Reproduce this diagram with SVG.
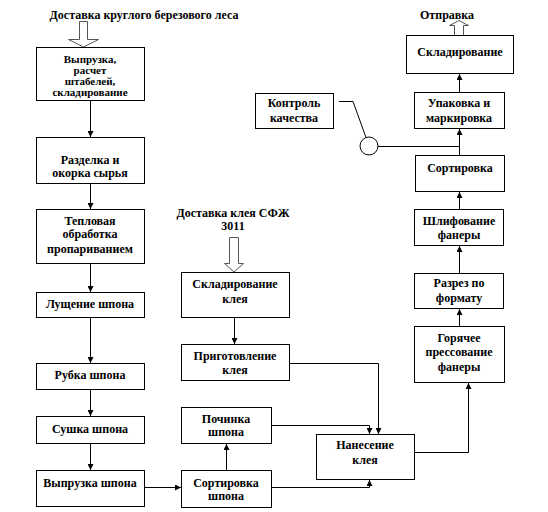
<svg xmlns="http://www.w3.org/2000/svg" width="548" height="512" viewBox="0 0 548 512">
<defs>
<marker id="ah" viewBox="0 0 6 6" refX="6" refY="3" markerWidth="6" markerHeight="6" orient="auto" markerUnits="userSpaceOnUse">
<path d="M0,0 L6,3 L0,6 Z" fill="#000"/>
</marker>
<style>
rect{fill:#fff;stroke:#000;stroke-width:1}
text{font-family:'Liberation Serif','Times New Roman','DejaVu Serif',serif;font-weight:bold;font-size:12px;fill:#000;text-anchor:middle}
.s{font-size:11px}
.c path,.c line,.c polyline{fill:none;stroke:#000;stroke-width:1}
.h{fill:#fff;stroke:#555;stroke-width:1}
</style>
</defs>
<rect x="0" y="0" width="548" height="512" style="fill:#fff;stroke:none"/>
<g font-family="Liberation Serif, serif">
<g id="src1"><text x="144" y="19">Доставка круглого березового леса</text>
<path class="h" d="M79.5,21.5 H87.5 V39.5 H98.5 L83.5,47 L68.5,39.5 H79.5 Z"/></g>
<g id="n1"><rect x="36.5" y="47.5" width="108" height="53"/>
<text class="s" x="90" y="63">Выпрузка,</text><text class="s" x="90" y="74">расчет</text><text class="s" x="90" y="85">штабелей,</text><text class="s" x="90" y="96">складирование</text></g>
<g id="n2"><rect x="36.5" y="137.5" width="108" height="46"/>
<text x="90" y="164">Разделка и</text><text x="90" y="177">окорка сырья</text></g>
<g id="n3"><rect x="36.5" y="209.5" width="108" height="54"/>
<text x="90" y="225">Тепловая</text><text x="90" y="238">обработка</text><text x="90" y="253">пропариванием</text></g>
<g id="n4"><rect x="36.5" y="292.5" width="108" height="25"/><text x="90" y="308">Лущение шпона</text></g>
<g id="n5"><rect x="36.5" y="363.5" width="108" height="26"/><text x="90" y="379">Рубка шпона</text></g>
<g id="n6"><rect x="36.5" y="416.5" width="108" height="27"/><text x="90" y="433">Сушка шпона</text></g>
<g id="n7"><rect x="36.5" y="470.5" width="108" height="36"/><text x="90" y="487">Выпрузка шпона</text></g>

<g id="src2"><text x="233" y="217">Доставка клея СФЖ</text><text x="233" y="230">3011</text>
<path class="h" d="M229.5,237.5 H238.5 V263.5 H243.5 L234,272 L224.5,263.5 H229.5 Z"/></g>
<g id="n8"><rect x="181.5" y="272.5" width="108" height="45"/><text x="235" y="288">Складирование</text><text x="235" y="303">клея</text></g>
<g id="n9"><rect x="181.5" y="344.5" width="108" height="36"/><text x="235" y="360">Приготовление</text><text x="235" y="374">клея</text></g>
<g id="n10"><rect x="181.5" y="407.5" width="90" height="36"/><text x="226" y="423">Починка</text><text x="226" y="436">шпона</text></g>
<g id="n11"><rect x="181.5" y="470.5" width="90" height="37"/><text x="226" y="487">Сортировка</text><text x="226" y="500">шпона</text></g>
<g id="n12"><rect x="316.5" y="434.5" width="98" height="45"/><text x="365" y="449">Нанесение</text><text x="365" y="464">клея</text></g>

<g id="n13"><rect x="414.5" y="326.5" width="90" height="56"/><text x="459" y="342">Горячее</text><text x="459" y="356">прессование</text><text x="459" y="371">фанеры</text></g>
<g id="n14"><rect x="414.5" y="273.5" width="89" height="35"/><text x="459" y="287">Разрез по</text><text x="459" y="302">формату</text></g>
<g id="n15"><rect x="414.5" y="209.5" width="89" height="36"/><text x="459" y="225">Шлифование</text><text x="459" y="239">фанеры</text></g>
<g id="n16"><rect x="415.5" y="155.5" width="89" height="36"/><text x="460" y="172">Сортировка</text></g>
<g id="n17"><rect x="414.5" y="92.5" width="90" height="36"/><text x="459" y="107">Упаковка и</text><text x="459" y="122">маркировка</text></g>
<g id="n18"><rect x="406.5" y="35.5" width="107" height="38"/><text x="460" y="56">Складирование</text></g>
<g id="dst"><text x="447" y="19">Отправка</text>
<path class="h" d="M454.5,35 V25.5 H449.5 L459,20.5 L468.5,25.5 H463.5 V35"/></g>
<g id="n19"><rect x="255.5" y="93.5" width="78" height="35"/><text x="294" y="107">Контроль</text><text x="294" y="122">качества</text></g>
</g>
<g class="c" id="connectors">
<line x1="90.5" y1="101" x2="90.5" y2="137" marker-end="url(#ah)"/>
<line x1="90.5" y1="184" x2="90.5" y2="209" marker-end="url(#ah)"/>
<line x1="90.5" y1="264" x2="90.5" y2="292" marker-end="url(#ah)"/>
<line x1="90.5" y1="318" x2="90.5" y2="363" marker-end="url(#ah)"/>
<line x1="90.5" y1="390" x2="90.5" y2="416" marker-end="url(#ah)"/>
<line x1="90.5" y1="444" x2="90.5" y2="470" marker-end="url(#ah)"/>
<line x1="145" y1="487.5" x2="181" y2="487.5" marker-end="url(#ah)"/>
<line x1="226.5" y1="470" x2="226.5" y2="444" marker-end="url(#ah)"/>
<line x1="234.5" y1="318" x2="234.5" y2="344" marker-end="url(#ah)"/>
<polyline points="272,425.5 369.5,425.5 369.5,434" marker-end="url(#ah)"/>
<polyline points="290,363.5 378.5,363.5 378.5,434" marker-end="url(#ah)"/>
<polyline points="272,487.5 369.5,487.5 369.5,480" marker-end="url(#ah)"/>
<polyline points="415,452.5 468.5,452.5 468.5,383" marker-end="url(#ah)"/>
<line x1="459.5" y1="326" x2="459.5" y2="309" marker-end="url(#ah)"/>
<line x1="459.5" y1="273" x2="459.5" y2="246" marker-end="url(#ah)"/>
<line x1="459.5" y1="209" x2="459.5" y2="192" marker-end="url(#ah)"/>
<line x1="459.5" y1="155" x2="459.5" y2="129" marker-end="url(#ah)"/>
<line x1="459.5" y1="92" x2="459.5" y2="74" marker-end="url(#ah)"/>
<polyline points="339,101.5 353,101.5 366,137.5"/>
<circle cx="369" cy="146" r="9" fill="#fff" stroke="#000"/>
<line x1="378" y1="146.5" x2="459.5" y2="146.5"/>
</g>
</svg>
